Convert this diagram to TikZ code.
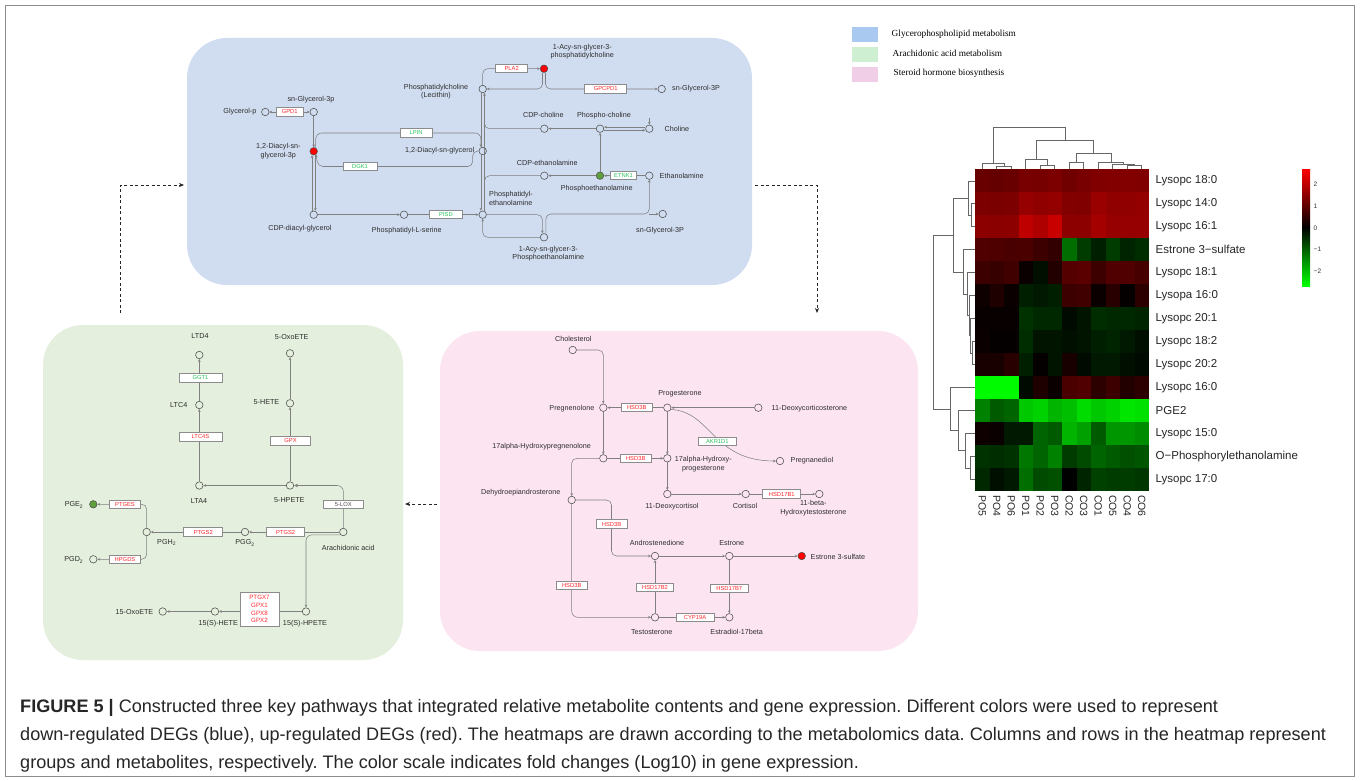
\documentclass[tikz,border=0pt]{standalone}
\usepackage{fontspec}
\setmainfont{Liberation Sans}
\newfontfamily\legfont{Liberation Serif}
\newfontfamily\capfont{Liberation Sans}
\usetikzlibrary{arrows.meta}
\definecolor{bluepan}{RGB}{208,220,240}
\definecolor{greenpan}{RGB}{228,239,221}
\definecolor{pinkpan}{RGB}{252,229,241}
\definecolor{legblue}{RGB}{169,201,240}
\definecolor{leggreen}{RGB}{206,239,209}
\definecolor{legpink}{RGB}{240,206,232}
\definecolor{genered}{RGB}{250,40,45}
\definecolor{genegreen}{RGB}{40,195,90}
\definecolor{metgreen}{RGB}{95,160,60}
\definecolor{lblgray}{RGB}{45,45,45}
\newcommand{\labsz}{\fontsize{7.2}{8.4}\selectfont}
\newcommand{\genesz}{\fontsize{5.8}{6.6}\selectfont}
\begin{document}
\frenchspacing
\begin{tikzpicture}[x=1pt,y=-1pt,
  met/.style={circle, draw=black!70, line width=0.55pt, minimum size=7.5pt, inner sep=0pt},
  metR/.style={met, fill=red},
  metG/.style={met, fill=metgreen},
  lbl/.style={font=\labsz, inner sep=0.5pt, text=lblgray, align=center},
  gene/.style={draw=black!45, line width=0.8pt, fill=white, minimum height=8.3pt, inner sep=0.3pt, font=\genesz},
  rg/.style={gene, text=genered},
  gg/.style={gene, text=genegreen},
  kg/.style={gene, text=black!70},
  ln/.style={draw=black!50, line width=0.55pt},
  arr/.style={ln, -{Stealth[length=2.8pt,width=2.6pt]}},
  arrb/.style={ln, -{Stealth[length=4pt,width=3.6pt]}},
  darr/.style={draw=black!85, line width=0.8pt, dash pattern=on 3pt off 2.5pt, -{Stealth[length=5pt,width=4pt]}},
  panel/.style={draw=none, rounded corners=40pt, inner sep=0pt},
  hml/.style={font=\fontsize{11.5}{13}\selectfont, inner sep=0pt, text=black!85},
  dend/.style={draw=black!60, line width=0.6pt},
  capn/.style={font=\capfont\fontsize{18.1}{21}\selectfont, inner sep=0pt, text=black!85}
]
\useasboundingbox (0,0) rectangle (1360,781);
\fill[white] (0,0) rectangle (1360,781);
\draw[black!45, line width=0.8pt] (5,5) rectangle (1354,776);

% ---------- panels ----------
\node[panel, fill=bluepan, minimum width=565pt, minimum height=247pt] (bluepanel) at (469.5,161.5) {};
\node[panel, fill=greenpan, minimum width=360pt, minimum height=335pt] (greenpanel) at (223,492.5) {};
\node[panel, fill=pinkpan, minimum width=478pt, minimum height=320pt] (pinkpanel) at (679,491) {};

% ---------- legend ----------
\node[fill=legblue, minimum width=26.6pt, minimum height=15pt, inner sep=0pt] (lg1) at (865,34.2) {};
\node[fill=leggreen, minimum width=26.6pt, minimum height=15.5pt, inner sep=0pt] (lg2) at (865,54.5) {};
\node[fill=legpink, minimum width=26.6pt, minimum height=15pt, inner sep=0pt] (lg3) at (865,74.2) {};
\node[font=\legfont\fontsize{9.3}{11}\selectfont, anchor=west, inner sep=0pt] (lt1) at (891.5,34) {Glycerophospholipid metabolism};
\node[font=\legfont\fontsize{9.3}{11}\selectfont, anchor=west, inner sep=0pt] (lt2) at (892.5,53.5) {Arachidonic acid metabolism};
\node[font=\legfont\fontsize{9.3}{11}\selectfont, anchor=west, inner sep=0pt] (lt3) at (893.5,73.5) {Steroid hormone biosynthesis};

% ---------- dashed connectors between panels ----------
\coordinate (d1s) at (120,313);
\coordinate (d1e) at (184,185);
\draw[darr] (d1s) |- (d1e);
\coordinate (d2s) at (755,185);
\coordinate (d2e) at (817,313);
\draw[darr] (d2s) -| (d2e);
\coordinate (d3s) at (437,504);
\coordinate (d3e) at (405,504);
\draw[darr] (d3s) -- (d3e);

% ================= BLUE PANEL =================
\begin{scope}[met/.append style={fill=bluepan}]
\node[met] (glyp) at (265.3,112) {};
\node[met] (sng3p) at (313.7,112) {};
\node[metR] (dag3p) at (313.7,151.3) {};
\node[met] (cdpdag) at (313.7,214.7) {};
\node[met] (ps) at (404,214.7) {};
\node[met] (pe) at (482.7,214.7) {};
\node[met] (dag) at (482.7,151) {};
\node[met] (pc) at (482.7,89) {};
\node[metR] (acypc) at (544,68.7) {};
\node[met] (sng3pA) at (661.7,89) {};
\node[met] (cdpcho) at (544.3,128.7) {};
\node[met] (phcho) at (600,128.7) {};
\node[met] (cho) at (649.3,128.7) {};
\node[met] (cdpeth) at (544.3,175.7) {};
\node[metG] (pheth) at (600,175.7) {};
\node[met] (eth) at (649.3,175.7) {};
\node[met] (acype) at (544,237.3) {};
\node[met] (sng3pB) at (662.7,214) {};
\end{scope}
\coordinate (jn) at (649.3,214);
\coordinate (chostub) at (649.3,118);

\draw[ln, {Stealth[length=2.8pt,width=2.6pt]}-{Stealth[length=2.8pt,width=2.6pt]}] (glyp) -- (sng3p);
\draw[arr] (sng3p) -- (dag3p);
\draw[arr] ([xshift=-1.7pt]cdpdag.north) -- ([xshift=-1.7pt]dag3p.south);
\draw[arr] ([xshift=1.7pt]dag3p.south) -- ([xshift=1.7pt]cdpdag.north);
\draw[arr, rounded corners=6pt] (dag3p.60) |- (480.9,133) -- ([xshift=-1.8pt]dag.north);
\draw[arr, rounded corners=5pt] (dag.west) -- ++(-6,0) |- (318,166.5) -- (dag3p.-55);
\draw[arr] (cdpdag) -- (ps);
\draw[arr] (ps) -- (pe);
\draw[arr] ([xshift=1.8pt]pe.north) -- ([xshift=1.8pt]pc.south);
\draw[ln] ([xshift=-1.8pt]pc.south) -- ([xshift=-1.8pt]dag.north);
\draw[arr] ([xshift=-1.8pt]dag.south) -- ([xshift=-1.8pt]pe.north);
\draw[arr, rounded corners=5pt] (pc.north) |- (acypc.west);
\draw[arr, rounded corners=5pt] ([xshift=-1.5pt]acypc.south) |- (pc.east);
\draw[arr, rounded corners=5pt] ([xshift=1.5pt]acypc.south) |- (sng3pA.west);
\draw[ln, rounded corners=5pt] (cdpcho.west) -| ([xshift=1.8pt]pc.south);
\draw[ln, rounded corners=5pt] (cdpeth.west) -| ([xshift=1.8pt]pe.north);
\draw[arr] (phcho) -- (cdpcho);
\draw[arr] ([yshift=1.6pt]cho.west) -- ([yshift=1.6pt]phcho.east);
\draw[arr] ([yshift=-1.6pt]phcho.east) -- ([yshift=-1.6pt]cho.west);
\draw[arr] (chostub) -- (cho.north);
\draw[arr] (pheth) -- (phcho);
\draw[arr] (pheth) -- (cdpeth);
\draw[arr] (eth) -- (pheth);
\draw[arr, rounded corners=5pt] (pe.east) -| ([xshift=-1.6pt]acype.north);
\draw[arr, rounded corners=5pt] (acype.west) -| (pe.south);
\draw[arr, rounded corners=5pt] ([xshift=1.8pt]acype.north) |- (jn) -- (eth.south);
\draw[arr] (jn) -- (sng3pB.west);

\node[rg, minimum width=27pt] (gpd1) at (289.7,112) {GPD1};
\node[gg, minimum width=32pt] (lpin) at (416,133) {LPIN};
\node[gg, minimum width=34pt] (dgk1) at (360,166.5) {DGK1};
\node[gg, minimum width=33pt] (pisd) at (446,214.7) {PISD};
\node[rg, minimum width=32pt] (pla2) at (511.7,68.7) {PLA2};
\node[rg, minimum width=42pt] (gpcpd1) at (605.7,89) {GPCPD1};
\node[gg, minimum width=26pt] (etnk1) at (623.5,175.7) {ETNK1};

\node[lbl, anchor=east] (tglyp) at (257,112) {Glycerol-p};
\node[lbl] (tsng3p) at (311,100) {sn-Glycerol-3p};
\node[lbl] (tdag3p) at (278.3,151) {1,2-Diacyl-sn-\\glycerol-3p};
\node[lbl] (tcdpdag) at (300,229) {CDP-diacyl-glycerol};
\node[lbl] (tps) at (406.7,230.3) {Phosphatidyl-L-serine};
\node[lbl] (tpc) at (436,91.5) {Phosphatidylcholine\\(Lecithin)};
\node[lbl, anchor=east] (tdag) at (475,150.7) {1,2-Diacyl-sn-glycerol};
\node[lbl, anchor=west, align=left] (tpe) at (488.5,198.5) {Phosphatidyl-\\ethanolamine};
\node[lbl] (tacypc) at (582.3,51.8) {1-Acy-sn-glycer-3-\\phosphatidylcholine};
\node[lbl, anchor=west] (tsng3pA) at (671.5,89) {sn-Glycerol-3P};
\node[lbl] (tcdpcho) at (543.3,115.3) {CDP-choline};
\node[lbl] (tphcho) at (604,115.3) {Phospho-choline};
\node[lbl, anchor=west] (tcho) at (664,128.7) {Choline};
\node[lbl] (tcdpeth) at (547.3,163) {CDP-ethanolamine};
\node[lbl] (tpheth) at (596.7,189) {Phosphoethanolamine};
\node[lbl, anchor=west] (teth) at (659,175.7) {Ethanolamine};
\node[lbl] (tacype) at (548.3,253.8) {1-Acy-sn-glycer-3-\\Phosphoethanolamine};
\node[lbl] (tsng3pB) at (660,230.3) {sn-Glycerol-3P};

% ================= GREEN PANEL =================
\begin{scope}[met/.append style={fill=greenpan}]
\node[met] (ltd4) at (199.3,355) {};
\node[met] (ltc4) at (199.3,405) {};
\node[met] (lta4) at (199.3,485.5) {};
\node[met] (hpete5) at (290,485.5) {};
\node[met] (hete5) at (290,403.3) {};
\node[met] (oxo5) at (290,353.3) {};
\node[met] (aa) at (343.3,532) {};
\node[met] (pgg2) at (245,532) {};
\node[met] (pgh2) at (146.7,532) {};
\node[metG] (pge2) at (93.3,504.3) {};
\node[met] (pgd2) at (93.3,559.3) {};
\node[met] (hpete15) at (306,611.5) {};
\node[met] (hete15) at (215,611.5) {};
\node[met] (oxo15) at (162.7,611.5) {};
\end{scope}
\draw[arr] (lta4) -- (ltc4);
\draw[arr] (ltc4) -- (ltd4);
\draw[arr] (hpete5) -- (lta4);
\draw[arr] (hpete5) -- (hete5);
\draw[arr] (hete5) -- (oxo5);
\draw[arrb, rounded corners=6pt] (aa.north) |- (hpete5.east);
\draw[arr] (aa) -- (pgg2);
\draw[arr] (pgg2) -- (pgh2);
\draw[arr, rounded corners=5pt] (pgh2.north) |- (pge2.east);
\draw[arr, rounded corners=5pt] (pgh2.south) |- (pgd2.east);
\draw[arr, rounded corners=6pt] (aa.south west) -| (hpete15.north);
\draw[arr] (hpete15) -- (hete15);
\draw[arr] (hete15) -- (oxo15);

\node[gg, minimum width=43pt] (ggt1) at (200.5,378) {GGT1};
\node[rg, minimum width=43pt] (ltc4s) at (200.5,437) {LTC4S};
\node[rg, minimum width=40pt] (gpx) at (290.5,441) {GPX};
\node[kg, minimum width=40pt] (lox5) at (343.3,504.3) {5-LOX};
\node[rg, minimum width=38pt] (ptgs2a) at (285.7,532) {PTGS2};
\node[rg, minimum width=39pt] (ptgs2b) at (203.3,532) {PTGS2};
\node[rg, minimum width=31pt] (ptges) at (125,504.3) {PTGES};
\node[rg, minimum width=31pt] (hpgds) at (125,559.3) {HPGDS};
\node[rg, minimum width=39pt, minimum height=34pt, align=center, font=\fontsize{6.2}{7.8}\selectfont] (gpxm) at (259.5,609) {PTGX7\\GPX1\\GPX8\\GPX2};

\node[lbl] (tltd4) at (200,336) {LTD4};
\node[lbl, anchor=east] (tltc4) at (188,405) {LTC4};
\node[lbl] (tlta4) at (199,500.7) {LTA4};
\node[lbl] (toxo5) at (291.7,337.3) {5-OxoETE};
\node[lbl, anchor=east] (thete5) at (280,402.5) {5-HETE};
\node[lbl] (thpete5) at (289.3,500) {5-HPETE};
\node[lbl] (taa) at (348.3,547.7) {Arachidonic acid};
\node[lbl] (tpgg2) at (245,543) {PGG\textsubscript{2}};
\node[lbl] (tpgh2) at (166.7,542.5) {PGH\textsubscript{2}};
\node[lbl, anchor=east] (tpge2) at (84,505) {PGE\textsubscript{2}};
\node[lbl, anchor=east] (tpgd2) at (84,560) {PGD\textsubscript{2}};
\node[lbl] (thpete15) at (305,624) {15(S)-HPETE};
\node[lbl] (thete15) at (218.3,623.3) {15(S)-HETE};
\node[lbl, anchor=east] (toxo15) at (154,612.5) {15-OxoETE};

% ================= PINK PANEL =================
\begin{scope}[met/.append style={fill=pinkpan}]
\node[met] (chol) at (572.7,350) {};
\node[met] (preg) at (603.3,407.7) {};
\node[met] (prog) at (667.3,407.7) {};
\node[met] (doc11) at (758.3,407.7) {};
\node[met] (pdiol) at (780,461) {};
\node[met] (ohp) at (603.3,458.3) {};
\node[met] (ohprog) at (667.3,458.3) {};
\node[met] (dcort) at (667.3,494) {};
\node[met] (cort) at (745.7,494) {};
\node[met] (bht) at (819.3,494) {};
\node[met] (dhea) at (571.7,500) {};
\node[met] (andro) at (655,556) {};
\node[met] (testo) at (655,617.3) {};
\node[met] (estrone) at (729.3,556) {};
\node[metR] (e3s) at (801.7,556) {};
\node[met] (estradiol) at (729.3,617.3) {};
\end{scope}
\coordinate (dc) at (611.5,556);
\draw[arr, rounded corners=5pt] (chol.east) -| (preg.north);
\draw[arr] (prog) -- (preg);
\draw[arr] (doc11) -- (prog);
\draw[arr] (preg) -- (ohp);
\draw[arr] (prog) -- (ohprog);
\draw[arr] (ohp) -- (ohprog);
\draw[arr] (ohprog) -- (dcort);
\draw[arr] (dcort) -- (cort);
\draw[arr] (cort) -- (bht);
\draw[arr] (prog.-25) .. controls (712,412) and (712,461) .. (pdiol.west);
\draw[arr, rounded corners=5pt] (ohp.west) -| (dhea.north);
\draw[arr, rounded corners=5pt] (dhea.east) -| (dc) -- (andro.west);
\draw[arr, rounded corners=6pt] (dhea.south) |- (testo.west);
\draw[arr] (testo) -- (andro);
\draw[arr] (andro) -- (estrone);
\draw[arr] (estrone) -- (e3s);
\draw[arr] (estrone) -- (estradiol);
\draw[arr] (testo) -- (estradiol);

\node[rg, minimum width=31pt] (hsd3b1) at (636.7,407.7) {HSD3B};
\node[rg, minimum width=31pt] (hsd3b2) at (635.7,458.3) {HSD3B};
\node[gg, minimum width=38pt] (akr) at (717.3,441.7) {AKR1D1};
\node[rg, minimum width=38pt] (hsd17b1) at (781.7,494) {HSD17B1};
\node[rg, minimum width=31pt] (hsd3b3) at (611.5,524) {HSD3B};
\node[rg, minimum width=31pt] (hsd3b4) at (571.7,585.7) {HSD3B};
\node[rg, minimum width=37pt] (hsd17b2) at (655,587.3) {HSD17B2};
\node[rg, minimum width=38pt] (hsd17b7) at (729.3,588.3) {HSD17B7};
\node[rg, minimum width=38pt] (cyp19a) at (695,617.3) {CYP19A};

\node[lbl] (tchol) at (573.3,339) {Cholesterol};
\node[lbl, anchor=east] (tpreg) at (595,409) {Pregnenolone};
\node[lbl] (tprog) at (680,394) {Progesterone};
\node[lbl, anchor=west] (tdoc11) at (771,409) {11-Deoxycorticosterone};
\node[lbl, anchor=west] (tpdiol) at (790,461) {Pregnanediol};
\node[lbl] (tohp) at (541.7,446.7) {17alpha-Hydroxypregnenolone};
\node[lbl] (tohprog) at (703.3,464.2) {17alpha-Hydroxy-\\progesterone};
\node[lbl] (tdcort) at (672,506.5) {11-Deoxycortisol};
\node[lbl] (tcort) at (745,505.5) {Cortisol};
\node[lbl] (tbht) at (813.3,508.2) {11-beta-\\Hydroxytestosterone};
\node[lbl, anchor=east] (tdhea) at (561,492.3) {Dehydroepiandrosterone};
\node[lbl] (tandro) at (657,542.5) {Androstenedione};
\node[lbl] (testrone) at (731.7,543.3) {Estrone};
\node[lbl, anchor=west] (te3s) at (810,557) {Estrone 3-sulfate};
\node[lbl] (ttesto) at (651.7,631.7) {Testosterone};
\node[lbl] (testradiol) at (736.7,632.3) {Estradiol-17beta};

% ================= HEATMAP =================
\foreach \rowdata [count=\j from 0] in {
 {105/0,100/0,105/0,120/0,118/0,125/0,112/0,120/0,128/0,130/0,130/0,128/0},
 {125/0,122/0,125/0,150/0,145/0,148/0,130/0,128/0,155/0,145/0,145/0,148/0},
 {140/0,138/0,140/0,190/0,175/0,200/0,140/0,140/0,165/0,150/0,150/0,150/0},
 {80/0,78/0,72/0,75/0,60/0,50/0,0/110,0/60,0/30,0/60,0/35,0/45},
 {60/0,55/0,65/0,10/0,0/15,35/0,85/0,90/0,60/0,80/0,80/0,70/0},
 {15/0,30/0,10/0,0/30,0/25,0/30,60/0,65/0,10/0,40/0,5/0,45/0},
 {8/0,8/0,8/0,0/50,0/40,0/40,0/10,0/20,0/45,0/40,0/40,0/35},
 {10/0,5/0,5/0,0/45,0/20,0/20,0/15,0/20,0/30,0/35,0/25,0/15},
 {25/0,25/0,40/0,0/30,5/0,0/20,25/0,0/10,0/25,0/25,0/15,0/10},
 {0/250,0/250,0/250,0/10,30/0,10/0,75/0,80/0,45/0,60/0,35/0,45/0},
 {0/130,0/90,0/100,0/200,0/210,0/180,0/190,0/220,0/200,0/210,0/230,0/225},
 {15/0,10/0,0/25,0/25,0/100,0/90,0/180,0/160,0/90,0/150,0/150,0/140},
 {0/50,0/45,0/50,0/120,0/100,0/130,0/60,0/75,0/100,0/90,0/80,0/85},
 {0/40,0/15,0/25,0/110,0/75,0/80,0/0,0/35,0/65,0/60,0/60,0/55}} {
  \foreach \r/\g [count=\i from 0] in \rowdata {
    \definecolor{hc}{RGB}{\r,\g,0}
    \fill[hc] ({975+14.5*\i},{169.3+22.96*\j}) rectangle ++(14.7,23.2);
  }
}
\foreach \t [count=\j from 0] in {Lysopc 18:0,Lysopc 14:0,Lysopc 16:1,Estrone 3−sulfate,Lysopc 18:1,Lysopa 16:0,Lysopc 20:1,Lysopc 18:2,Lysopc 20:2,Lysopc 16:0,PGE2,Lysopc 15:0,O−Phosphorylethanolamine,Lysopc 17:0}
  \node[hml, anchor=west] (rl\j) at (1155.5,{169.3+22.96*(\j+0.5)}) {\t};
\foreach \t [count=\i from 0] in {PO5,PO4,PO6,PO1,PO2,PO3,CO2,CO3,CO1,CO5,CO4,CO6}
  \node[font=\fontsize{10.5}{12}\selectfont, inner sep=0pt, text=black!85, rotate=-90, anchor=west] (cl\i) at ({975+14.5*(\i+0.5)},495) {\t};

% column dendrogram
\draw[dend] (996.75,169) |- (1011.25,166) -- (1011.25,169);
\draw[dend] (982.25,169) |- (1004,163) -- (1004,166);
\draw[dend] (1040.25,169) |- (1054.75,165) -- (1054.75,169);
\draw[dend] (1025.75,169) |- (1047.5,159.3) -- (1047.5,165);
\draw[dend] (1069.25,169) |- (1083.75,162.7) -- (1083.75,169);
\draw[dend] (1127.25,169) |- (1141.75,165.7) -- (1141.75,169);
\draw[dend] (1112.75,169) |- (1134.5,164) -- (1134.5,165.7);
\draw[dend] (1098.25,169) |- (1123.6,162.3) -- (1123.6,164);
\draw[dend] (1076.5,162.7) |- (1110.9,153.3) -- (1110.9,162.3);
\draw[dend] (1036.6,159.3) |- (1093.7,140.7) -- (1093.7,153.3);
\draw[dend] (993.1,163) |- (1065.2,127.3) -- (1065.2,140.7);

% row dendrogram
\draw[dend] (974.5,203.7) -| (971,226.7) -- (974.5,226.7);
\draw[dend] (974.5,180.8) -| (968,215.2) -- (971,215.2);
\draw[dend] (974.5,341.5) -| (972,364.4) -- (974.5,364.4);
\draw[dend] (974.5,318.5) -| (970.5,353) -- (972,353);
\draw[dend] (974.5,295.6) -| (969,335.7) -- (970.5,335.7);
\draw[dend] (974.5,272.6) -| (967,315.7) -- (969,315.7);
\draw[dend] (974.5,249.7) -| (963,294.2) -- (967,294.2);
\draw[dend] (968,198) -| (953.3,271.9) -- (963,271.9);
\draw[dend] (974.5,456.3) -| (970,479.2) -- (974.5,479.2);
\draw[dend] (974.5,433.3) -| (965,467.8) -- (970,467.8);
\draw[dend] (974.5,410.3) -| (958,450.5) -- (965,450.5);
\draw[dend] (974.5,387.4) -| (950,430.4) -- (958,430.4);
\draw[dend] (953.3,235) -| (933.3,408.9) -- (950,408.9);

% colour bar
\shade[top color=red, bottom color=black] (1302,169) rectangle (1310,227.6);
\shade[top color=black, bottom color=green] (1302,227.4) rectangle (1310,286);
\foreach \v/\yy [count=\k] in {2/184,1/206,0/228,−1/249.5,−2/271}
  \node[font=\fontsize{6.5}{7}\selectfont, anchor=west, inner sep=0pt, text=black!80] (ck\k) at (1313.5,\yy) {\v};

% ================= CAPTION =================
\node[capn, anchor=base west] (cap1) at (20,712) {\textbf{FIGURE 5 |} Constructed three key pathways that integrated relative metabolite contents and gene expression. Different colors were used to represent};
\node[capn, anchor=base west] (cap2) at (20,740.5) {down-regulated DEGs (blue), up-regulated DEGs (red). The heatmaps are drawn according to the metabolomics data. Columns and rows in the heatmap represent};
\node[capn, anchor=base west] (cap3) at (20,768.5) {groups and metabolites, respectively. The color scale indicates fold changes (Log10) in gene expression.};
\end{tikzpicture}
\end{document}
